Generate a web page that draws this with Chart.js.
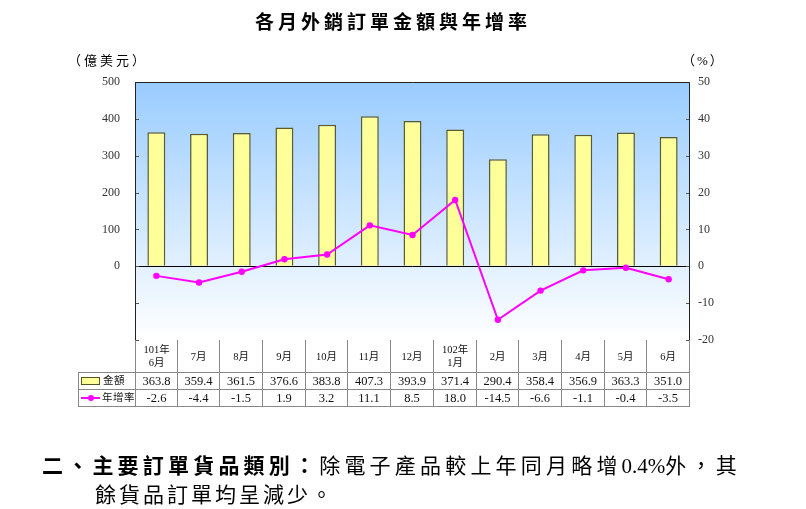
<!DOCTYPE html>
<html><head><meta charset="utf-8">
<script src="https://cdn.jsdelivr.net/npm/chart.js@4"></script>
<style>
body{margin:0;width:806px;height:509px;overflow:hidden;background:#fff;font-family:"Liberation Serif","Noto Sans CJK TC",serif;color:#000;}
#wrap{position:absolute;left:0;top:0;width:806px;height:509px;}
.t{position:absolute;white-space:nowrap;color:#000;}
.cell{position:absolute;box-sizing:border-box;display:flex;align-items:center;justify-content:center;text-align:center;font-size:12.5px;line-height:14px;border-right:1px solid #888;border-bottom:1px solid #888;color:#111;white-space:nowrap;}
.hdr{font-size:10.5px;line-height:13px;}
.lab{justify-content:flex-start;padding-left:2px;font-size:10.5px;letter-spacing:0.5px;border-left:1px solid #888;}
.sw{display:inline-block;width:17px;height:6px;background:#ffff99;border:1px solid #555522;margin-right:3px;}
.ln{display:inline-block;position:relative;width:20px;height:8px;margin-right:2px;}
.ln:before{content:"";position:absolute;left:0;right:0;top:3px;height:2px;background:#ff00ff;}
.ln:after{content:"";position:absolute;left:7px;top:1px;width:6px;height:6px;border-radius:50%;background:#ff00ff;}
.num{letter-spacing:0;}
</style></head><body>
<div id="wrap"><canvas id="c" width="806" height="509"></canvas></div>
<div class="t" style="left:0;width:786px;top:7px;text-align:center;font-size:19px;font-weight:bold;letter-spacing:4px;">各月外銷訂單金額與年增率</div>
<div class="t" style="left:68px;top:50px;font-size:13px;letter-spacing:3px;">（億美元）</div>
<div class="t" style="left:682px;top:50px;font-size:13px;letter-spacing:2px;">（%）</div>
<div id="table"></div>
<div class="t" style="left:42px;top:449px;font-size:21px;letter-spacing:4.2px;"><b>二、主要訂單貨品類別：</b>除電子產品較上年同月略增<span class="num">0.4%</span>外，其</div>
<div class="t" style="left:95px;top:478px;font-size:21px;letter-spacing:3px;">餘貨品訂單均呈減少。</div>
<script>
const categories = [['101年','6月'],'7月','8月','9月','10月','11月','12月',['102年','1月'],'2月','3月','4月','5月','6月'];
const amounts = [363.8,359.4,361.5,376.6,383.8,407.3,393.9,371.4,290.4,358.4,356.9,363.3,351.0];
const growth = [-2.6,-4.4,-1.5,1.9,3.2,11.1,8.5,18.0,-14.5,-6.6,-1.1,-0.4,-3.5];
const seriesNames = ['金額','年增率'];
const amountRange = [-200,500,100];
const growthRange = [-20,50,10];

const tickFont = {family:'"Liberation Serif", serif', size:12};
const bgPlugin = {
  id:'bg',
  beforeDraw(chart){
    const {ctx, chartArea:a} = chart;
    const g = ctx.createLinearGradient(0,a.top,0,a.bottom);
    g.addColorStop(0,'#99ccff');
    g.addColorStop(1,'#ffffff');
    ctx.save(); ctx.fillStyle=g; ctx.fillRect(a.left,a.top,a.width,a.height); ctx.restore();
  },
  afterDraw(chart){
    const {ctx, chartArea:a, scales} = chart;
    ctx.save();
    ctx.strokeStyle='#555';
    ctx.lineWidth=1;
    scales.yL.ticks.forEach(t=>{const y=Math.round(scales.yL.getPixelForValue(t.value))+0.5;ctx.beginPath();ctx.moveTo(a.left,y);ctx.lineTo(a.left+4,y);ctx.stroke();});
    scales.yR.ticks.forEach(t=>{const y=Math.round(scales.yR.getPixelForValue(t.value))+0.5;ctx.beginPath();ctx.moveTo(a.right-4,y);ctx.lineTo(a.right,y);ctx.stroke();});
    ctx.strokeStyle='#222';
    ctx.beginPath();
    ctx.moveTo(a.left+0.5,a.bottom);ctx.lineTo(a.left+0.5,a.top+0.5);ctx.lineTo(a.right-0.5,a.top+0.5);ctx.lineTo(a.right-0.5,a.bottom);
    ctx.stroke();
    ctx.restore();
  }
};

const chart = new Chart(document.getElementById('c'), {
  data:{
    labels:categories,
    datasets:[
      {type:'line',label:seriesNames[1],data:growth,yAxisID:'yR',borderColor:'#ff00ff',backgroundColor:'#ff00ff',borderWidth:2,pointRadius:3.2,pointBackgroundColor:'#ff00ff',pointBorderWidth:0,order:0,tension:0},
      {type:'bar',label:seriesNames[0],data:amounts,yAxisID:'yL',backgroundColor:'#ffff99',borderColor:'#5c5c2e',borderWidth:1.5,barPercentage:0.42,categoryPercentage:1,order:1}
    ]
  },
  options:{
    responsive:false,animation:false,devicePixelRatio:1,
    layout:{padding:{top:82,bottom:169,left:0,right:0}},
    plugins:{legend:{display:false},tooltip:{enabled:false},title:{display:false}},
    scales:{
      x:{display:false,offset:true},
      yL:{position:'left',min:amountRange[0],max:amountRange[1],
        ticks:{stepSize:amountRange[2],padding:15,font:tickFont,color:'#333',callback:v=>v>=0?v:''},
        grid:{drawTicks:false,color:c=>(c.tick&&c.tick.value===0)?'#000':'rgba(0,0,0,0)',lineWidth:1},
        border:{display:false},
        afterFit(s){s.width=135;}},
      yR:{position:'right',min:growthRange[0],max:growthRange[1],
        ticks:{stepSize:growthRange[2],padding:8,font:tickFont,color:'#333'},
        grid:{display:false,drawTicks:false},border:{display:false},
        afterFit(s){s.width=116;}}
    }
  },
  plugins:[bgPlugin]
});

// table built from the data arrays, aligned to the chart's category scale
(function(){
  const a = chart.chartArea, xs = chart.scales.x;
  const n = categories.length, w = a.width/n;
  const tb = document.getElementById('table');
  const top0 = a.bottom, h0 = 33, h1 = 17, h2 = 17;
  const labLeft = 78;
  function cell(x,y,wd,ht,html,cls){const d=document.createElement('div');d.className='cell '+(cls||'');d.style.left=x+'px';d.style.top=y+'px';d.style.width=wd+'px';d.style.height=ht+'px';d.innerHTML=html;tb.appendChild(d);return d;}
  for(let i=0;i<n;i++){
    const x = Math.round(xs.getPixelForValue(i)-w/2);
    const x2 = Math.round(xs.getPixelForValue(i)+w/2);
    const lab = Array.isArray(categories[i])?categories[i].join('<br>'):categories[i];
    const c0 = cell(x,top0,x2-x,h0,lab,'hdr');
    if(i===0) c0.style.borderLeft='1px solid #888';
    const c1 = cell(x,top0+h0,x2-x,h1,amounts[i].toFixed(1));
    if(i===0) c1.style.borderLeft='1px solid #888';
    const c2 = cell(x,top0+h0+h1,x2-x,h2,growth[i].toFixed(1));
    if(i===0) c2.style.borderLeft='1px solid #888';
  }
  const lw = Math.round(a.left)-labLeft+1;
  const l1 = cell(labLeft,top0+h0-1,lw,h1+1,'<span class="sw"></span>'+seriesNames[0],'lab');
  l1.style.borderTop='1px solid #888';
  cell(labLeft,top0+h0+h1,lw,h2,'<span class="ln"></span>'+seriesNames[1],'lab');
})();
</script>
</body></html>
